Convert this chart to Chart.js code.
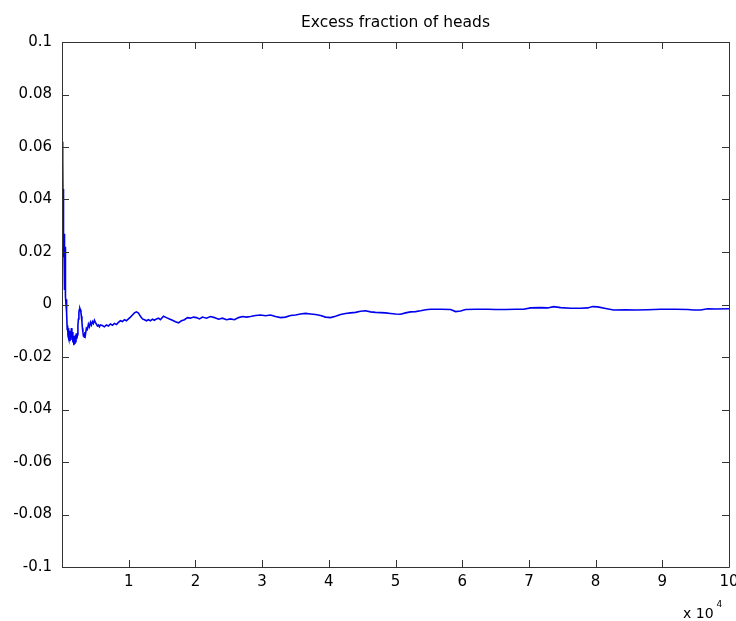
<!DOCTYPE html>
<html>
<head>
<meta charset="utf-8">
<script src="https://cdn.jsdelivr.net/npm/chart.js@4/dist/chart.umd.min.js"></script>
<style>
  html, body { margin: 0; padding: 0; background: #fff; }
  #wrap { width: 736px; height: 621px; }
</style>
</head>
<body>
<div id="wrap"><canvas id="c" width="736" height="621"></canvas></div>
<script>
// ---- data ----
const chartTitle = 'Excess fraction of heads';
// number of tosses
const tossCounts = [
  60, 90, 120, 150, 180, 210, 240, 270, 300, 330, 360, 390, 420, 450, 480, 510, 560, 600, 660, 720,
  780, 840, 900, 960, 1035, 1110, 1185, 1260, 1335, 1410, 1485, 1560, 1635, 1710, 1785, 1860, 1935, 2010, 2085, 2160,
  2235, 2310, 2385, 2460, 2535, 2610, 2685, 2760, 2835, 2910, 2985, 3060, 3135, 3210, 3285, 3360, 3435, 3510, 3660, 3810,
  3960, 4110, 4260, 4410, 4560, 4710, 4860, 5010, 5160, 5310, 5460, 5610, 5760, 6060, 6360, 6660, 6960, 7260, 7560, 7860,
  8160, 8460, 8760, 9060, 9360, 9660, 9960, 10260, 10560, 10860, 11160, 11460, 11760, 12060, 12360, 12660, 12960, 13260, 13560, 13860,
  14160, 14460, 14760, 15210, 15660, 16110, 16560, 17010, 17460, 17910, 18360, 18810, 19260, 19710, 20160, 20610, 21060, 21660, 22260, 22860,
  23460, 24060, 24660, 25260, 25860, 26460, 27060, 27660, 28260, 29010, 29760, 30510, 31260, 32010, 32760, 33510, 34260, 35010, 35760, 36510,
  37260, 38010, 38760, 39510, 40260, 41010, 41760, 42510, 43260, 44010, 44760, 45510, 46260, 47010, 47760, 48510, 49260, 50010, 50760, 51510,
  52260, 53010, 53760, 54510, 55260, 56760, 58260, 59010, 59760, 60510, 62010, 63810, 65010, 66510, 68010, 69210, 70260, 71760, 72810, 73710,
  74760, 76260, 77760, 78810, 79560, 80310, 81510, 82710, 84510, 86010, 87810, 89760, 92010, 93810, 94710, 95760, 96810, 98010, 100000
];
// excess fraction of heads (fraction of heads minus 0.5)
const excessFraction = [
  0.062, 0.048, 0.055, 0.038, 0.044, 0.028, 0.033, 0.018, 0.022, 0.008, 0.0055, 0.027, 0.018, 0.022, 0.010, 0.004, 0.003, 0.0, 0.002, -0.003,
  -0.0095, -0.008, -0.012, -0.009, -0.013, -0.010, -0.014, -0.011, -0.0135, -0.009, -0.0125, -0.0105, -0.0145, -0.012, -0.0155, -0.0125, -0.015, -0.0115, -0.0145, -0.011,
  -0.013, -0.0115, -0.008, -0.0055, -0.003, -0.0018, -0.0015, -0.002, -0.003, -0.0045, -0.0065, -0.009, -0.0105, -0.012, -0.011, -0.0125, -0.0105, -0.0115, -0.009, -0.0095,
  -0.0075, -0.0085, -0.0068, -0.0078, -0.0065, -0.0072, -0.006, -0.0068, -0.0075, -0.0082, -0.0078, -0.0085, -0.0078, -0.008, -0.0085, -0.0078, -0.0082, -0.0074, -0.0079, -0.0072,
  -0.0076, -0.0068, -0.0062, -0.0065, -0.0058, -0.0062, -0.0055, -0.0048, -0.004, -0.0032, -0.0028, -0.0033, -0.0045, -0.0055, -0.0058, -0.0062, -0.0058, -0.0062, -0.0056, -0.006,
  -0.0055, -0.0052, -0.0058, -0.0045, -0.005, -0.0055, -0.006, -0.0066, -0.007, -0.0062, -0.0058, -0.005, -0.0052, -0.0048, -0.005, -0.0055, -0.0048, -0.0052, -0.0046, -0.005,
  -0.0056, -0.0052, -0.0058, -0.0055, -0.0058, -0.005, -0.0046, -0.0048, -0.0046, -0.0042, -0.004, -0.0043, -0.004, -0.0046, -0.005, -0.0048, -0.0042, -0.004, -0.0036, -0.0034,
  -0.0036, -0.0038, -0.0042, -0.0048, -0.005, -0.0045, -0.0038, -0.0034, -0.0032, -0.003, -0.0026, -0.0024, -0.0028, -0.003, -0.0031, -0.0032, -0.0034, -0.0036, -0.0037, -0.0032,
  -0.0028, -0.0027, -0.0024, -0.002, -0.0018, -0.0018, -0.0019, -0.0027, -0.0025, -0.0019, -0.0018, -0.0018, -0.0019, -0.0019, -0.0018, -0.0018, -0.0013, -0.0012, -0.0013, -0.0008,
  -0.0012, -0.0014, -0.0014, -0.0013, -0.0008, -0.0009, -0.0015, -0.0021, -0.002, -0.0021, -0.002, -0.0018, -0.0018, -0.0019, -0.0021, -0.0021, -0.0016, -0.0017, -0.0016
];
// axis ticks
const xTickValues = [10000, 20000, 30000, 40000, 50000, 60000, 70000, 80000, 90000, 100000];
const xTickLabels = ['1', '2', '3', '4', '5', '6', '7', '8', '9', '10'];
const yTickValues = [-0.1, -0.08, -0.06, -0.04, -0.02, 0, 0.02, 0.04, 0.06, 0.08, 0.1];
const yTickLabels = ['-0.1', '-0.08', '-0.06', '-0.04', '-0.02', '0', '0.02', '0.04', '0.06', '0.08', '0.1'];
const xExponentBase = 'x 10';
const xExponent = '4';

// ---- chart ----
const FONT = '"DejaVu Sans", "Liberation Sans", Arial, sans-serif';
const AXIS_COLOR = '#333333';

const points = tossCounts.map((n, i) => ({ x: n, y: excessFraction[i] }));

const matlabAxes = {
  id: 'matlabAxes',
  afterDatasetsDraw(chart) {
    const { ctx, chartArea: a, scales } = chart;
    const xs = scales.x, ys = scales.y;
    const tick = 7;
    ctx.save();
    ctx.strokeStyle = AXIS_COLOR;
    ctx.lineWidth = 1;
    ctx.beginPath();
    ctx.rect(Math.round(a.left) + 0.5, Math.round(a.top) + 0.5,
             Math.round(a.right - a.left), Math.round(a.bottom - a.top));
    ctx.stroke();
    ctx.beginPath();
    xTickValues.forEach(v => {
      const px = Math.round(xs.getPixelForValue(v)) + 0.5;
      ctx.moveTo(px, a.bottom); ctx.lineTo(px, a.bottom - tick);
      ctx.moveTo(px, a.top); ctx.lineTo(px, a.top + tick);
    });
    yTickValues.forEach(v => {
      const py = Math.round(ys.getPixelForValue(v)) + 0.5;
      ctx.moveTo(a.left, py); ctx.lineTo(a.left + tick, py);
      ctx.moveTo(a.right, py); ctx.lineTo(a.right - tick, py);
    });
    ctx.stroke();
    // title
    ctx.fillStyle = '#000';
    ctx.font = '15.5px ' + FONT;
    ctx.textAlign = 'center';
    ctx.textBaseline = 'alphabetic';
    ctx.fillText(chartTitle, (a.left + a.right) / 2, 27);
    // exponent label
    ctx.font = '14px ' + FONT;
    ctx.textAlign = 'left';
    ctx.fillText(xExponentBase, 683, 618);
    const w = ctx.measureText(xExponentBase).width;
    ctx.font = '9px ' + FONT;
    ctx.fillText(xExponent, 683 + w + 3, 607);
    ctx.restore();
  }
};

new Chart(document.getElementById('c'), {
  type: 'line',
  data: {
    datasets: [{
      data: points,
      borderColor: '#0000ee',
      borderWidth: 1.6,
      pointRadius: 0,
      tension: 0,
      fill: false
    }]
  },
  options: {
    responsive: false,
    animation: false,
    devicePixelRatio: 1,
    layout: { autoPadding: false, padding: { left: 0, right: 7, top: 42, bottom: 0 } },
    plugins: { legend: { display: false }, tooltip: { enabled: false }, title: { display: false } },
    scales: {
      x: {
        type: 'linear',
        min: 0, max: 100000,
        grid: { display: false, drawTicks: false },
        border: { display: false },
        afterFit(s) { s.height = 54; s.paddingLeft = 0; s.paddingRight = 0; },
        afterBuildTicks(s) { s.ticks = xTickValues.map(v => ({ value: v })); },
        ticks: {
          padding: 6,
          color: '#000',
          font: { family: FONT, size: 15 },
          maxRotation: 0,
          autoSkip: false,
          callback(v) { const i = xTickValues.indexOf(v); return i >= 0 ? xTickLabels[i] : ''; }
        }
      },
      y: {
        min: -0.1, max: 0.1,
        grid: { display: false, drawTicks: false },
        border: { display: false },
        afterFit(s) { s.width = 62; s.paddingTop = 0; s.paddingBottom = 0; },
        afterBuildTicks(s) { s.ticks = yTickValues.map(v => ({ value: v })); },
        ticks: {
          padding: 10,
          color: '#000',
          font: { family: FONT, size: 15 },
          autoSkip: false,
          callback(v) {
            const i = yTickValues.findIndex(t => Math.abs(t - v) < 1e-9);
            return i >= 0 ? yTickLabels[i] : '';
          }
        }
      }
    }
  },
  plugins: [matlabAxes]
});
</script>
</body>
</html>
